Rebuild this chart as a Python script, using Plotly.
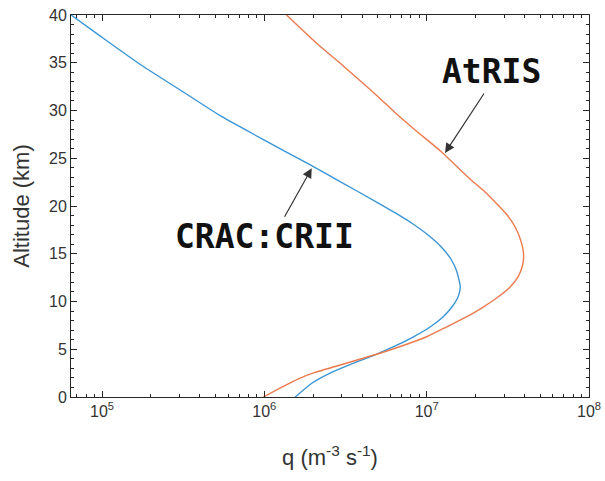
import plotly.graph_objects as go

# CRAC:CRII profile (blue)
crac_alt = [40.0, 37.73, 34.76, 32.15, 29.35, 27.09, 24.4, 22.72, 20.28, 19.27, 18.19, 16.96, 15.71, 14.45, 13.19, 11.52,
            10.47, 9.42, 8.38, 7.33, 6.28, 5.24, 4.29, 3.40, 2.51, 1.47, 0.0]
crac_q = [6.45e4, 9.86e4, 1.74e5, 3.03e5, 5.48e5, 9.55e5, 1.87e6, 2.82e6, 5.07e6, 6.41e6, 8.11e6, 1.02e7, 1.23e7, 1.41e7, 1.53e7, 1.61e7,
          1.56e7, 1.43e7, 1.26e7, 1.05e7, 8.24e6, 6.21e6, 4.61e6, 3.37e6, 2.54e6, 1.97e6, 1.55e6]

# AtRIS profile (orange)
atris_alt = [40.0, 37.04, 34.59, 31.45, 29.87, 27.96, 25.69, 22.72, 21.47, 20.21, 19.06, 17.80, 16.44, 15.05, 13.82, 12.60,
             11.52, 10.47, 9.42, 8.41, 7.38, 6.31, 5.39, 4.58, 3.87, 3.19, 2.57, 1.88, 1.05, 0.0]
atris_q = [1.37e6, 2.10e6, 3.10e6, 5.02e6, 6.30e6, 8.49e6, 1.23e7, 1.88e7, 2.29e7, 2.71e7, 3.13e7, 3.51e7, 3.79e7, 3.95e7, 3.90e7, 3.66e7,
           3.27e7, 2.75e7, 2.23e7, 1.77e7, 1.34e7, 1.00e7, 7.16e6, 5.16e6, 3.73e6, 2.73e6, 2.05e6, 1.61e6, 1.29e6, 9.86e5]

x_major = [1e5, 1e6, 1e7, 1e8]
x_major_labels = ["10<sup>5</sup>", "10<sup>6</sup>", "10<sup>7</sup>", "10<sup>8</sup>"]
x_minor = [m * 10 ** e for e in range(4, 8) for m in range(2, 10)]
y_major = [0, 5, 10, 15, 20, 25, 30, 35, 40]
y_minor = list(range(0, 41))

BLUE = "#3a95d6"
ORANGE = "#ea7a4e"
AX = "#262626"

fig = go.Figure()
fig.add_trace(go.Scatter(x=crac_q, y=crac_alt, mode="lines", name="CRAC:CRII",
                         line=dict(color=BLUE, width=1.4, shape="spline", smoothing=0.6)))
fig.add_trace(go.Scatter(x=atris_q, y=atris_alt, mode="lines", name="AtRIS",
                         line=dict(color=ORANGE, width=1.4, shape="spline", smoothing=0.6)))

axis_common = dict(showline=True, linecolor=AX, linewidth=1, mirror="ticks",
                   ticks="inside", tickcolor=AX, ticklen=6, tickwidth=1,
                   showgrid=False, zeroline=False, automargin=False,
                   ticklabeloverflow="allow",
                   tickfont=dict(family="Liberation Sans, Arial", size=16, color="#333333"))

fig.update_xaxes(type="log", range=[4.809, 8.0], tickvals=x_major, ticktext=x_major_labels,
                 minor=dict(tickvals=x_minor, ticks="inside", ticklen=3, tickcolor=AX, showgrid=False),
                 title=dict(text="q (m<sup>-3</sup> s<sup>-1</sup>)", standoff=30,
                            font=dict(family="Liberation Sans, Arial", size=22, color="#333333")),
                 **axis_common)
fig.update_yaxes(range=[0, 40], tickvals=y_major,
                 minor=dict(tickvals=y_minor, ticks="inside", ticklen=3, tickcolor=AX, showgrid=False),
                 title=dict(text="Altitude (km)", standoff=13,
                            font=dict(family="Liberation Sans, Arial", size=22, color="#333333")),
                 **axis_common)

label_font = dict(family="DejaVu Sans Mono", size=33, color="#111111", weight="bold")
fig.add_annotation(x=7.397, y=34.1, text="<b>AtRIS</b>", showarrow=False, font=label_font)
fig.add_annotation(x=7.113, y=25.55, ax=40, ay=-61, text="", showarrow=True,
                   arrowhead=2, arrowsize=1.6, arrowwidth=1.2, arrowcolor="#333333")
fig.add_annotation(x=6.0, y=16.85, text="<b>CRAC:CRII</b>", showarrow=False, font=label_font)
fig.add_annotation(x=6.292, y=23.95, ax=-28, ay=50, text="", showarrow=True,
                   arrowhead=2, arrowsize=1.6, arrowwidth=1.2, arrowcolor="#333333")

fig.update_layout(width=605, height=481, margin=dict(l=71, r=16, t=15, b=84),
                  plot_bgcolor="white", paper_bgcolor="white", showlegend=False)

# remove the default page margin so the figure fills the window exactly
fig.write_html("out.html", config={"displayModeBar": False},
               post_script="document.body.style.margin='0';document.body.style.overflow='hidden';")
